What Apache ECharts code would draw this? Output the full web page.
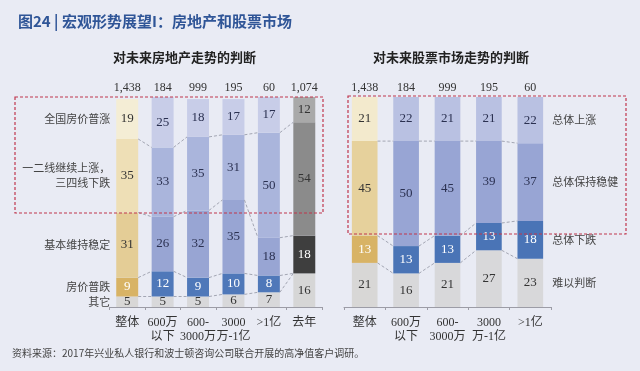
<!DOCTYPE html>
<html><head><meta charset="utf-8">
<script src="https://cdn.jsdelivr.net/npm/echarts@6/dist/echarts.min.js"></script>
<style>html,body{margin:0;padding:0;background:#e9ebf4;}#c{width:640px;height:371px;}</style>
</head><body><div id="c"></div>
<script>
// ---------- data ----------
const houseCats = ['整体', '600万\n以下', '600-\n3000万', '3000\n万-1亿', '>1亿', '去年'];
const houseCounts = ['1,438', '184', '999', '195', '60', '1,074'];
const houseLayerNames = ['其它', '房价普跌', '基本维持稳定', '一二线继续上涨，\n三四线下跌', '全国房价普涨'];
const houseOther  = [5, 5, 5, 6, 7, 16];
const houseFall   = [9, 12, 9, 10, 8, null];
const houseStable = [31, 26, 32, 35, 18, 18];
const houseTier   = [35, 33, 35, 31, 50, 54];
const houseRise   = [19, 25, 18, 17, 17, 12];

const stockCats = ['整体', '600万\n以下', '600-\n3000万', '3000\n万-1亿', '>1亿'];
const stockCounts = ['1,438', '184', '999', '195', '60'];
const stockLayerNames = ['难以判断', '总体下跌', '总体保持稳健', '总体上涨'];
const stockUnsure = [21, 16, 21, 27, 23];
const stockFall   = [13, 13, 13, 13, 18];
const stockSteady = [45, 50, 45, 39, 37];
const stockRise   = [21, 22, 21, 21, 22];

const chartTitle = '图24 | 宏观形势展望I：房地产和股票市场';
const houseTitle = '对未来房地产走势的判断';
const stockTitle = '对未来股票市场走势的判断';
const sourceText = '资料来源：2017年兴业私人银行和波士顿咨询公司联合开展的高净值客户调研。';

// ---------- styles ----------
const houseTypes = ['gold', 'blue', 'blue', 'blue', 'blue', 'gray'];
const stockTypes = ['gold', 'blue', 'blue', 'blue', 'blue'];
const housePal = {
  gold: ['#d8d7d6', '#d8b365', '#e4cd96', '#eedfb6', '#f4edd5'],
  blue: ['#d8d8da', '#4f78b9', '#98a5d3', '#aab5dc', '#c8cde8'],
  gray: ['#d6d6d6', '#777777', '#3e3e3e', '#8b8b8b', '#a9a9a9']
};
const houseTxt = {
  gold: ['#333', '#fff', '#333', '#333', '#333'],
  blue: ['#333', '#fff', '#2a3050', '#2a3050', '#2a3050'],
  gray: ['#333', '#fff', '#fff', '#333', '#333']
};
const stockPal = {
  gold: ['#d8d7d6', '#d8b365', '#e6d19c', '#f3eacd'],
  blue: ['#d8d8da', '#4a74b6', '#98a5d4', '#b9c1e2']
};
const stockTxt = {
  gold: ['#333', '#fff', '#333', '#333'],
  blue: ['#333', '#fff', '#2a3050', '#2a3050']
};
const SERIF = '"Liberation Serif", "Noto Sans CJK SC", serif';
const CJK = '"Noto Sans CJK SC", sans-serif';
const BW = 0.62;

function barSeries(g, layers, names, types, pal, txt) {
  return layers.map((vals, li) => ({
    type: 'bar', name: names[li], xAxisIndex: g * 2, yAxisIndex: g, stack: 'g' + g,
    barWidth: (BW * 100) + '%',
    label: { show: true, position: 'inside', fontFamily: SERIF, fontSize: 13 },
    data: vals.map((v, ci) => v == null ? '-' : {
      value: v,
      itemStyle: { color: pal[types[ci]][li] },
      label: { color: txt[types[ci]][li] }
    })
  }));
}
function cumulative(layers, upto) {
  const n = layers[0].length, out = [];
  for (let ci = 0; ci < n; ci++) {
    let s = 0;
    for (let l = 0; l < upto; l++) s += (layers[l][ci] || 0);
    out.push(s);
  }
  return out;
}
function connectorSeries(g, layers) {
  const data = [];
  for (let L = 1; L < layers.length; L++) {
    const c = cumulative(layers, L);
    for (let ci = 0; ci < c.length - 1; ci++) data.push([ci, c[ci], c[ci + 1]]);
  }
  return {
    type: 'custom', xAxisIndex: g * 2, yAxisIndex: g, z: 5, silent: true,
    encode: { x: 0, y: [1, 2] },
    renderItem: (params, api) => {
      const i = api.value(0);
      const a = api.coord([i, api.value(1)]);
      const b = api.coord([i + 1, api.value(2)]);
      const bw = api.size([1, 0])[0] * BW;
      return { type: 'line', shape: { x1: a[0] + bw / 2, y1: a[1], x2: b[0] - bw / 2, y2: b[1] },
        style: { stroke: '#a3a6b3', lineWidth: 1, lineDash: [3, 2] } };
    },
    data
  };
}
function sideLabelSeries(g, layers, names, ci, side) {
  const data = [];
  for (let L = 0; L < layers.length; L++) {
    const below = cumulative(layers, L)[ci];
    const v = layers[L][ci] || 0;
    data.push([ci, below + v / 2, L]);
  }
  return {
    type: 'custom', xAxisIndex: g * 2, yAxisIndex: g, z: 6, silent: true,
    encode: { x: 0, y: 1 },
    renderItem: (params, api) => {
      const p = api.coord([api.value(0), api.value(1)]);
      const bw = api.size([1, 0])[0] * BW;
      const left = side === 'left';
      return { type: 'text', style: {
        x: left ? p[0] - bw / 2 - 6 : p[0] + bw / 2 + 9, y: p[1],
        text: names[api.value(2)], textAlign: left ? 'right' : 'left', textVerticalAlign: 'middle',
        fontFamily: CJK, fontSize: 11, fill: '#444', lineHeight: 15 } };
    },
    data
  };
}

const houseLayers = [houseOther, houseFall, houseStable, houseTier, houseRise];
const stockLayers = [stockUnsure, stockFall, stockSteady, stockRise];

function xAxes(g, cats, counts) {
  return [
    { gridIndex: g, type: 'category', data: cats, position: 'bottom',
      axisLine: { lineStyle: { color: '#9c9ca6' } },
      axisTick: { show: true, length: 3, lineStyle: { color: '#9c9ca6' } },
      axisLabel: { interval: 0, fontFamily: SERIF, fontSize: 12, color: '#333', margin: 9, lineHeight: 14 } },
    { gridIndex: g, type: 'category', data: counts, position: 'top',
      axisLine: { show: false }, axisTick: { show: false },
      axisLabel: { interval: 0, fontFamily: SERIF, fontSize: 12, color: '#333', margin: 3 } }
  ];
}

const option = {
  backgroundColor: '#e9ebf4',
  animation: false,
  title: { text: chartTitle, left: 13, top: 9,
    textStyle: { fontFamily: CJK, fontSize: 15, fontWeight: 'bold', color: '#2f5597' } },
  grid: [
    { left: 109.5, top: 97, width: 212.5, height: 210 },
    { left: 344, top: 97, width: 207, height: 210 }
  ],
  xAxis: [...xAxes(0, houseCats, houseCounts), ...xAxes(1, stockCats, stockCounts)],
  yAxis: [
    { gridIndex: 0, type: 'value', min: 0, max: 100, show: false },
    { gridIndex: 1, type: 'value', min: 0, max: 100, show: false }
  ],
  series: [
    ...barSeries(0, houseLayers, houseLayerNames, houseTypes, housePal, houseTxt),
    ...barSeries(1, stockLayers, stockLayerNames, stockTypes, stockPal, stockTxt),
    connectorSeries(0, houseLayers),
    connectorSeries(1, stockLayers),
    sideLabelSeries(0, houseLayers, houseLayerNames, 0, 'left'),
    sideLabelSeries(1, stockLayers, stockLayerNames, stockCats.length - 1, 'right')
  ],
  graphic: [
    { type: 'text', left: 113, top: 51, style: { text: houseTitle, fontFamily: CJK, fontSize: 13, fontWeight: 'bold', fill: '#222' } },
    { type: 'text', left: 373, top: 51, style: { text: stockTitle, fontFamily: CJK, fontSize: 13, fontWeight: 'bold', fill: '#222' } },
    { type: 'text', left: 12, top: 348, style: { text: sourceText, fontFamily: CJK, fontSize: 10, fill: '#444' } },
    { type: 'rect', z: 100, silent: true, shape: { x: 15, y: 97, width: 308, height: 116 },
      style: { fill: 'none', stroke: '#c0364d', lineWidth: 1.2, lineDash: [3, 2] } },
    { type: 'rect', z: 100, silent: true, shape: { x: 348, y: 96, width: 278, height: 138 },
      style: { fill: 'none', stroke: '#c0364d', lineWidth: 1.2, lineDash: [3, 2] } }
  ]
};
const chart = echarts.init(document.getElementById('c'), null, { renderer: 'canvas' });
chart.setOption(option);
</script>
</body></html>
